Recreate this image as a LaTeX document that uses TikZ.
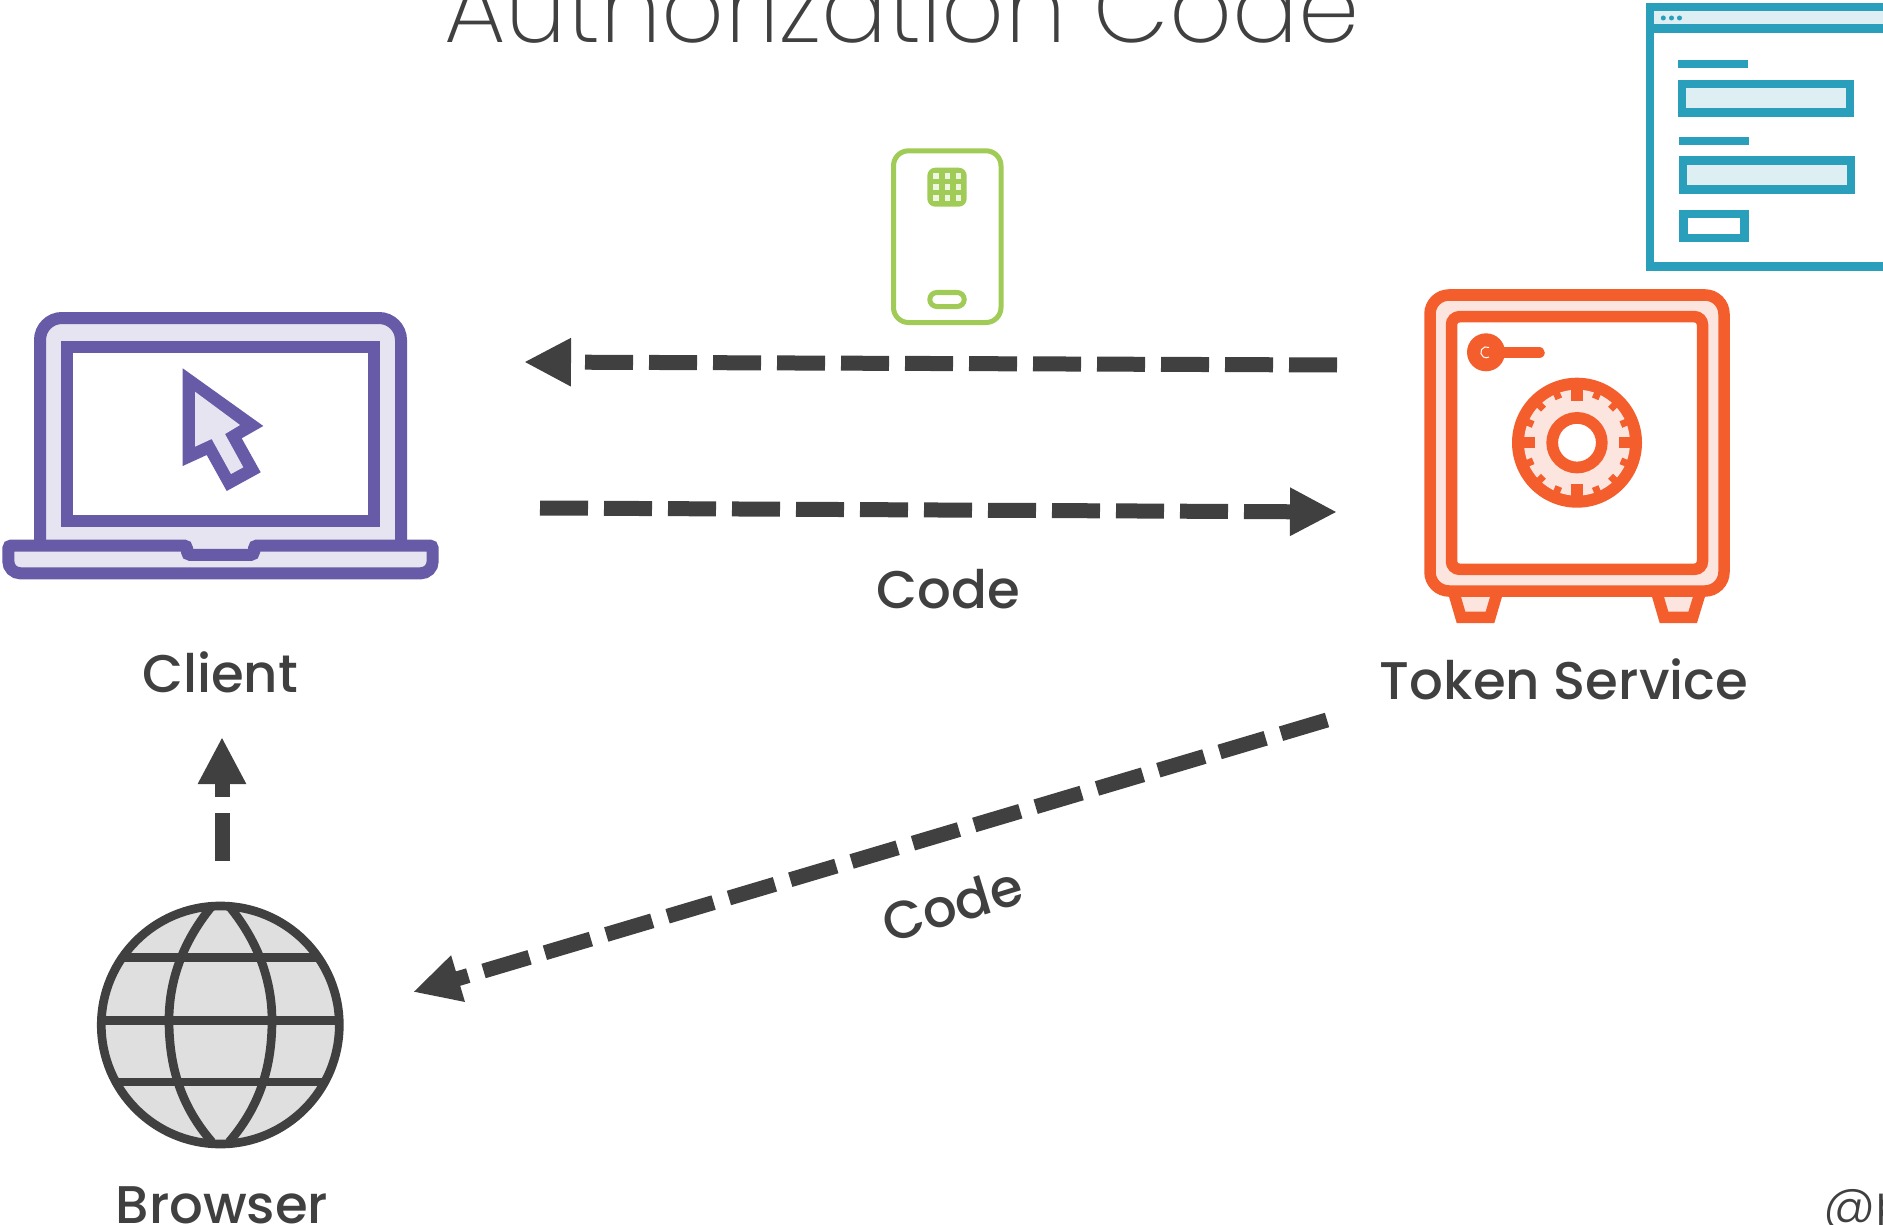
\documentclass[tikz,border=0pt]{standalone}
\usepackage{fontspec}
\setmainfont[UprightFont=* Medium]{Poppins}
\newfontfamily\thinfont[UprightFont=* ExtraLight]{Poppins}
\newfontfamily\lightfont[UprightFont=* Light]{Poppins}
\usetikzlibrary{arrows.meta}
\definecolor{inkgrey}{HTML}{404040}
\definecolor{purpleline}{HTML}{675BA7}
\definecolor{purplefill}{HTML}{E6E4F0}
\definecolor{orangeline}{HTML}{F45E2C}
\definecolor{orangefill}{HTML}{FCE5DF}
\definecolor{tealline}{HTML}{2A9FBC}
\definecolor{tealfill}{HTML}{DEEFF3}
\definecolor{greenline}{HTML}{A0CB57}
\definecolor{greenfill}{HTML}{EEF5E0}
\definecolor{globefill}{HTML}{DFDFDF}
\tikzset{
    flow/.style={draw=inkgrey, line width=15pt, dash pattern=on 48pt off 16pt,
        -{Triangle[length=47pt,width=45pt,fill=inkgrey]}},
    caption/.style={text=inkgrey, inner sep=0pt, anchor=base,
        font=\fontsize{53}{64}\selectfont},
    laptopline/.style={draw=purpleline, line width=12pt},
    safeline/.style={draw=orangeline, line width=11.5pt},
    formline/.style={draw=tealline, line width=8.3pt},
    phoneline/.style={draw=greenline, line width=5pt},
    globeline/.style={draw=inkgrey, line width=8.7pt},
}
\begin{document}
\begin{tikzpicture}[x=1pt, y=-1pt]
    \useasboundingbox (0,0) rectangle (1883,1225);
    \clip (0,0) rectangle (1883,1225);
    \fill[white] (0,0) rectangle (1883,1225);

    \node[text=inkgrey, inner sep=0pt, anchor=base,
        font=\fontsize{98}{110}\selectfont\thinfont] (title) at (902,43) {Authorization Code};

    % laptop
    \draw[laptopline, fill=purplefill, rounded corners=22pt]
        (40,560) -- (40,318) -- (401,318) -- (401,560);
    \draw[laptopline, fill=white] (67,347) rectangle (374,521);
    \fill[purpleline] (182.7,368.3) -- (263.3,426) -- (241.7,438.3) -- (260.7,472.3)
        -- (226.7,491) -- (206.7,455) -- (182.7,466) -- cycle;
    \fill[purplefill] (195,391.7) -- (240,425) -- (225,434) -- (243.3,467.3)
        -- (231,474) -- (211.7,439) -- (195,446.7) -- cycle;
    \draw[laptopline, fill=purplefill, rounded corners=3pt]
        (8.3,545.5) -- (187,545.5) -- (187,554.8) -- (254,554.8) -- (254,545.5)
        -- (432.7,545.5) [rounded corners=12pt] -- (432.7,573.3) -- (8.3,573.3)
        [rounded corners=3pt] -- cycle;

    % safe
    \foreach \footl/\footr/\botl/\botr in {1453.3/1497.7/1461/1490, 1656.3/1700.7/1664/1692.7} {
        \draw[safeline, fill=orangefill] (\footl,591) -- (\botl,617.3) -- (\botr,617.3) -- (\footr,591) -- cycle;
    }
    \draw[safeline, fill=orangefill, rounded corners=19pt] (1430,295) rectangle (1724,591);
    \draw[safeline, fill=white, rounded corners=8pt] (1451.5,316.7) rectangle (1702.5,569.3);
    \draw[orangeline, line width=11.5pt, line cap=round] (1486,352.7) -- (1539,352.7);
    \fill[orangeline] (1486,352.3) circle (19pt);
    \draw[white, line width=1pt] (1489,347.5) arc (60:300:5.5pt);
    \fill[orangeline] (1577,442.7) circle (65pt);
    \fill[orangefill] (1577,442.7) circle (53pt);
    \begin{scope}[shift={(1577,442.7)}]
        \foreach \a in {0,22.5,...,337.5} {
            \fill[orangeline, rotate=\a] (47.5,-3.5) rectangle (54,3.5);
        }
        \foreach \a in {0,90,180,270} {
            \fill[orangeline, rotate=\a] (41.7,-5.7) rectangle (54,5.7);
        }
    \end{scope}
    \draw[orangeline, line width=11.7pt, fill=white] (1577,442.7) circle (24.8pt);

    % form
    \draw[formline, fill=white] (1650,7) rectangle (1887,266.5);
    \draw[formline, fill=tealfill] (1650,7) rectangle (1887,28.5);
    \foreach \x in {1663.3,1671.5,1679.5} {
        \fill[tealline] (\x,18) circle (2.5pt);
    }
    \fill[tealline] (1678.3,60) rectangle (1748,68.3);
    \fill[tealline] (1679.3,137) rectangle (1749,145.3);
    \draw[formline, fill=tealfill] (1682,84) rectangle (1850,112.5);
    \draw[formline, fill=tealfill] (1683,160.5) rectangle (1851,189.5);
    \draw[formline, fill=white] (1683.5,214) rectangle (1744.5,238);

    % phone
    \draw[phoneline, fill=white, rounded corners=15pt] (893.5,150.8) rectangle (1001,322.5);
    \fill[greenline, rounded corners=8pt] (927.3,167.7) rectangle (966.7,206.7);
    \foreach \x in {936,947.3,958.3} {
        \foreach \y in {176,187,198.3} {
            \fill[greenfill] (\x-2.8,\y-2.8) rectangle (\x+2.8,\y+2.8);
        }
    }
    \draw[phoneline, fill=white, rounded corners=7pt] (929.8,292.5) rectangle (964.2,306.5);

    % globe
    \fill[globefill] (220.3,1025) circle (119pt);
    \begin{scope}
        \clip (220.3,1025) circle (119pt);
        \foreach \y in {957.7,1020.3,1082} {
            \draw[globeline] (100,\y) -- (340,\y);
        }
        \draw[globeline] (212,906) .. controls (180,945) and (169,985) .. (169,1020)
            .. controls (169,1065) and (180,1105) .. (212,1142);
        \draw[globeline] (229,906) .. controls (261,945) and (272,985) .. (272,1020)
            .. controls (272,1065) and (261,1105) .. (229,1142);
    \end{scope}
    \draw[globeline] (220.3,1025) circle (119pt);

    % labels
    \node[caption] (client) at (220,692) {Client};
    \node[caption] (token) at (1564,699) {Token Service};
    \node[caption] (browser) at (222,1223) {Browser};
    \node[caption] (codea) at (948,608) {Code};
    \node[caption, rotate=17] (codeb) at (958,923) {Code};
    \node[text=inkgrey, inner sep=0pt, anchor=base west,
        font=\fontsize{52}{60}\selectfont\lightfont] (handle) at (1823,1222) {@p};

    % connectors
    \coordinate (topa) at (1337,365);
    \coordinate (topb) at (524,362);
    \coordinate (mida) at (540,508);
    \coordinate (midb) at (1337,512);
    \coordinate (diaga) at (1327,720);
    \coordinate (diagb) at (413,992);
    \coordinate (upa) at (222,861);
    \coordinate (upb) at (222,737);
    \draw[flow] (topa) -- (topb);
    \draw[flow] (mida) -- (midb);
    \draw[flow] (diaga) -- (diagb);
    \draw[flow] (upa) -- (upb);
\end{tikzpicture}
\end{document}
